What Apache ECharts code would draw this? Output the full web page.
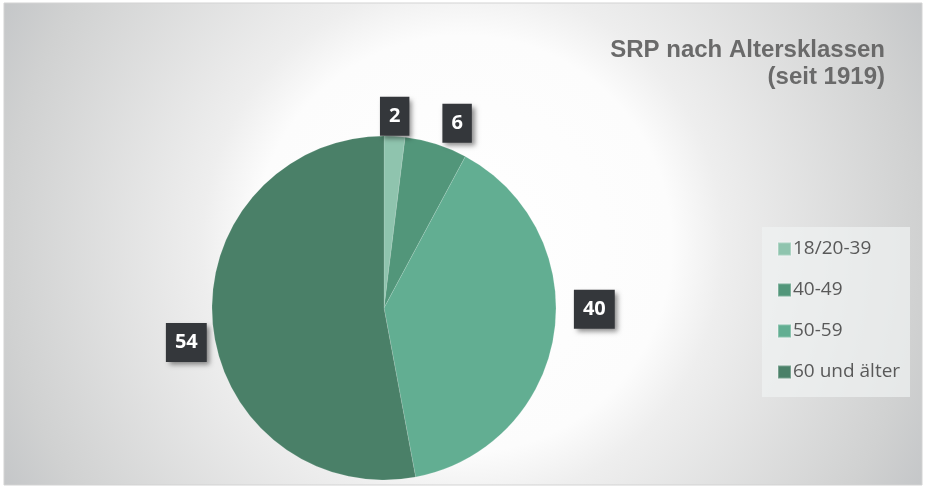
<!DOCTYPE html>
<html lang="de">
<head>
    <meta charset="UTF-8">
    <title>SRP nach Altersklassen</title>
    <script src="https://cdn.jsdelivr.net/npm/echarts@6/dist/echarts.min.js"></script>
    <style>
        html, body { margin: 0; padding: 0; background: #fff; }
    </style>
</head>
<body>
<div id="main" style="width: 926px;height:489px;"></div>
<script type="text/javascript">
    // Altersklassen und Anzahl
    var categories = ['18/20-39', '40-49', '50-59', '60 und älter'];
    var values = [2, 6, 40, 54];
    var colors = ['#8fc4ae', '#52967a', '#62ae92', '#4a8068'];
    // Verschiebung der Datenbeschriftungen (dx, dy)
    var labelShift = [[-24, -14], [-60, -48], [10, -26], [9, 18]];

    var myChart = echarts.init(document.getElementById('main'));

    var pieData = [];
    for (var i = 0; i < categories.length; i++) {
        pieData.push({ name: categories[i], value: values[i], itemStyle: { color: colors[i] } });
    }

    myChart.setOption({
        animation: false,
        graphic: [{
            type: 'rect',
            shape: { x: 4, y: 3, width: 918, height: 482 },
            style: {
                fill: new echarts.graphic.RadialGradient(0.5, 0.5, 1.08, [
                    { offset: 0, color: '#ffffff' },
                    { offset: 0.4, color: '#fcfcfc' },
                    { offset: 0.5, color: '#eeeeee' },
                    { offset: 0.88, color: '#d0d1d1' },
                    { offset: 1, color: '#c4c6c8' }
                ]),
                stroke: '#d3d3d3',
                lineWidth: 1
            },
            z: -10
        }, {
            type: 'rect',
            shape: { x: 762, y: 227, width: 148, height: 170 },
            style: { fill: 'rgba(240,242,242,0.7)' },
            z: -5
        }],
        title: {
            text: 'SRP nach Altersklassen\n(seit 1919)',
            left: 880,
            top: 32,
            textAlign: 'right',
            textStyle: {
                fontFamily: 'Liberation Sans',
                fontSize: 24,
                fontWeight: 'bold',
                color: '#6a6a6a',
                lineHeight: 27,
                align: 'right'
            }
        },
        legend: {
            orient: 'vertical',
            left: 772,
            top: 234,
            itemWidth: 13,
            itemHeight: 13,
            itemGap: 21,
            icon: 'rect',
            textStyle: {
                fontFamily: 'Open Sans',
                fontSize: 19,
                lineHeight: 20,
                color: '#595959',
                padding: [0, 0, 0, -3]
            },
            data: categories
        },
        series: [{
            type: 'pie',
            center: [384, 308],
            radius: [0, 172],
            startAngle: 90,
            clockwise: true,
            silent: true,
            itemStyle: { borderColor: 'rgba(255,255,255,0.25)', borderWidth: 0.5 },
            label: {
                show: true,
                position: 'outside',
                formatter: '{c}',
                fontFamily: 'Open Sans',
                fontSize: 20,
                lineHeight: 20,
                fontWeight: 'bold',
                color: '#ffffff',
                backgroundColor: '#34373b',
                padding: [10, 9, 9, 9],
                shadowColor: 'rgba(0,0,0,0.45)',
                shadowBlur: 5,
                shadowOffsetX: 3,
                shadowOffsetY: 3
            },
            labelLine: { show: false, length: 6, length2: 4 },
            labelLayout: function (params) {
                var s = labelShift[params.dataIndex];
                return { dx: s[0], dy: s[1] };
            },
            data: pieData
        }]
    });
</script>
</body>
</html>
